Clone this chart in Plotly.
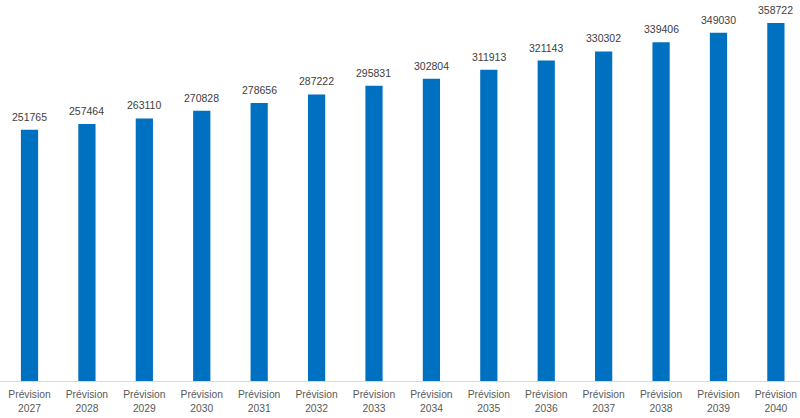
import plotly.graph_objects as go

years = ["2027", "2028", "2029", "2030", "2031", "2032", "2033", "2034",
         "2035", "2036", "2037", "2038", "2039", "2040"]
categories = ["Prévision<br>" + y for y in years]
values = [251765, 257464, 263110, 270828, 278656, 287222, 295831, 302804,
          311913, 321143, 330302, 339406, 349030, 358722]

x_pos = list(range(len(categories)))

fig = go.Figure(go.Bar(
    x=x_pos, y=values, width=0.3,
    marker=dict(color="#0070C0", line=dict(width=0)),
    hoverinfo="skip",
))

for xi, v in zip(x_pos, values):
    fig.add_annotation(
        x=xi, y=v, text=str(v), showarrow=False,
        yanchor="bottom", yshift=5,
        font=dict(family="Liberation Sans, Arial", size=10.5, color="#404040"),
    )

fig.update_layout(
    width=800, height=418,
    margin=dict(l=0, r=0, t=0, b=37, autoexpand=False),
    plot_bgcolor="white", paper_bgcolor="white",
    showlegend=False,
    xaxis=dict(
        tickmode="array", tickvals=x_pos, ticktext=categories,
        range=[-0.514, 13.42], automargin=False,
        showgrid=False, showline=True, linecolor="#D9D9D9", linewidth=1,
        ticks="", ticklabelstandoff=4,
        tickfont=dict(family="Liberation Sans, Arial", size=10.3, color="#595959"),
    ),
    yaxis=dict(range=[0, 381800], visible=False, showgrid=False, zeroline=False,
               automargin=False),
)

fig.write_html("out.html", config={"displayModeBar": False},
               post_script="document.body.style.margin='0';")
